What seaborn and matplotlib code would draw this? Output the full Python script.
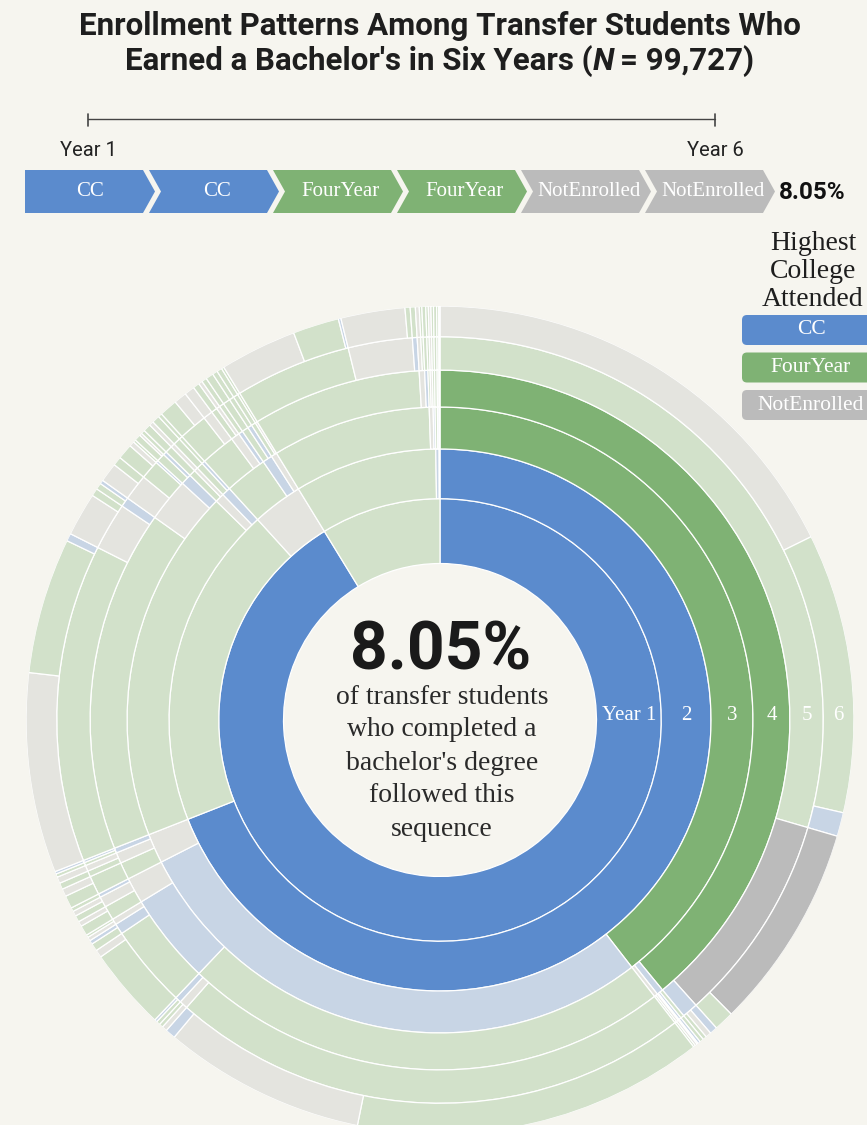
import numpy as np
import pandas as pd
import seaborn as sns
import matplotlib
matplotlib.use("Agg")
import matplotlib.pyplot as plt
from matplotlib.patches import Polygon, FancyBboxPatch
from matplotlib.colors import to_rgb

# ---------------------------------------------------------------- data
state_names = {"C": "CC", "F": "FourYear", "N": "NotEnrolled"}

# six-year enrollment sequences (one letter per year) and their share of students, in %
sequences = [
    "CCFFFN", "CCFFFF", "CCFFFC", "CCFFNN", "CCFFNF", "CCFFCC", "CCFFCN", "CCFFCF",
    "CCFCFF", "CCFCCC", "CCFCNN", "CCFNNN", "CCFNFF",
    "CCCFFF", "CCCFFN", "CCCFFC", "CCCFNN", "CCCFNF", "CCCFCF", "CCCFCC",
    "CCCCFF", "CCCCFN", "CCCCCF", "CCCCCC", "CCCCNN", "CCCCNF",
    "CCCNFF", "CCCNFN", "CCCNNF", "CCCNNN", "CCCNCF",
    "CCNFFF", "CCNFFN", "CCNNFF", "CCNNNN", "CCNCFF", "CCNCCC",
    "CFFFFN", "CFFFFF", "CFFFFC", "CFFFNN", "CFFFNF", "CFFFCF", "CFFFCC",
    "CFFNNN", "CFFNNF", "CFFNFF", "CFFNFN", "CFFNCF", "CFFCFF", "CFFCFN", "CFFCCF",
    "CFCFFF", "CFCCFF", "CFNFFF", "CFNNNN",
    "CNFFFF", "CNFFFN", "CNFFNN", "CNFNFF", "CNFNNN", "CNFCFF", "CNCFFF", "CNCCFF",
    "CNNFFF", "CNNNFF",
    "FFFFFN", "FFFFFF", "FFFFFC", "FFFFNN", "FFFFNF", "FFFFCF", "FFFNNN", "FFFNFF",
    "FFFCFF", "FFNFFF", "FFNNNN", "FFCFFF", "FCFFFF", "FCCFFF", "FNFFFF",
]
shares = [
    17.70, 10.90, 0.93, 8.05, 0.78, 0.30, 0.22, 0.15,
    0.15, 0.10, 0.05, 0.09, 0.08,
    13.70, 7.90, 0.40, 0.20, 0.15, 0.15, 0.10,
    3.20, 0.30, 0.30, 0.15, 0.15, 0.10,
    0.40, 0.20, 0.25, 0.20, 0.15,
    0.50, 0.30, 0.25, 0.25, 0.13, 0.10,
    7.80, 5.30, 0.30, 1.70, 0.30, 0.25, 0.15,
    0.75, 0.35, 0.60, 0.20, 0.10, 0.25, 0.10, 0.15,
    0.30, 0.15, 0.30, 0.17,
    0.70, 0.50, 0.40, 0.25, 0.15, 0.20, 0.30, 0.20,
    0.20, 0.10,
    3.00, 1.80, 0.10, 2.50, 0.20, 0.20, 0.15, 0.10,
    0.15, 0.10, 0.10, 0.10, 0.12, 0.08, 0.05,
]
highlight = "CCFFNN"
total_students = 99727
ring_labels = ["Year 1", "2", "3", "4", "5", "6"]
legend_title = ["Highest", "College", "Attended"]
legend_items = ["CC", "FourYear", "NotEnrolled"]
caption_lines = ["of transfer students", "who completed a", "bachelor's degree",
                 "followed this", "sequence"]

# ---------------------------------------------------------------- style
W, H = 867, 1125
BG = "#f6f5ef"
palette = dict(zip(legend_items, sns.color_palette(["#5b8bcd", "#7fb274", "#bbbbbb"])))

sns.set_theme(style="white")
plt.rcParams["font.family"] = ["DejaVu Sans"]
SANS = "Roboto"
SERIF = "Liberation Serif"


def faded(c, a=0.3):
    c = np.array(to_rgb(c))
    b = np.array(to_rgb(BG))
    return tuple(a * c + (1 - a) * b)


# ---------------------------------------------------------------- partition
df = pd.DataFrame({"seq": sequences, "share": shares})
total = df["share"].sum()
n_years = 6
arcs = []


def layout(prefix, start, depth):
    if depth == n_years:
        return
    sub = df[df["seq"].str.startswith(prefix)]
    grp = sub.groupby(sub["seq"].str[depth])["share"].sum()
    grp = grp.sort_values(ascending=False, kind="stable")
    cur = start
    for code, val in grp.items():
        span = val / total * 2 * np.pi
        arcs.append((prefix + code, depth + 1, cur, span))
        layout(prefix + code, cur, depth + 1)
        cur += span


layout("", 0.0, 0)
arcs = pd.DataFrame(arcs, columns=["path", "depth", "start", "span"])

# ---------------------------------------------------------------- figure
fig = plt.figure(figsize=(W / 100, H / 100), dpi=100, facecolor=BG)

R = 414
cx, cy = 440, 720
ax = fig.add_axes([(cx - R) / W, 1 - (cy + R) / H, 2 * R / W, 2 * R / H],
                  projection="polar")
ax.set_theta_zero_location("N")
ax.set_theta_direction(-1)
ax.set_ylim(0, R)
ax.set_axis_off()
ax.patch.set_alpha(0)

r_edges = R * np.sqrt(np.arange(n_years + 2) / (n_years + 1))

for _, a in arcs.iterrows():
    state = state_names[a["path"][-1]]
    on_path = highlight.startswith(a["path"])
    color = palette[state] if on_path else faded(palette[state])
    r0, r1 = r_edges[a["depth"]], r_edges[a["depth"] + 1]
    ax.bar(a["start"] + a["span"] / 2, r1 - r0, width=a["span"], bottom=r0,
           color=color, edgecolor="white", linewidth=0.9, align="center")

for d, lab in enumerate(ring_labels, start=1):
    rm = (r_edges[d] + r_edges[d + 1]) / 2
    ax.text(np.pi / 2 - 5 / rm, rm, lab, color="white", ha="center", va="center",
            fontsize=15, family=SERIF)

# overlay in pixel coordinates for the annotations
ov = fig.add_axes([0, 0, 1, 1])
ov.set_xlim(0, W)
ov.set_ylim(H, 0)
ov.set_axis_off()
ov.patch.set_alpha(0)

renderer = fig.canvas.get_renderer()


def centered_runs(x, y, runs, **kw):
    texts = [ov.text(0, y, s, ha="left", va="center", **kw, **st)
             for s, st, _ in runs]
    widths = [t.get_window_extent(renderer).width for t in texts]
    gaps = [g for _, _, g in runs]
    cur = x - (sum(widths) + sum(gaps)) / 2
    for t, w, g in zip(texts, widths, gaps):
        t.set_x(cur)
        cur += w + g


title_kw = dict(family=SANS, weight="bold", fontsize=22.5, color="#1e1e1e")
ov.text(440, 26, "Enrollment Patterns Among Transfer Students Who",
        ha="center", va="center", **title_kw)
centered_runs(440, 61, [("Earned a Bachelor's in Six Years (", {}, 0),
                        ("N", {"style": "italic"}, 6),
                        ("= 99,727)", {}, 0)], **title_kw)

# year bracket
ov.plot([88, 715], [119, 119], color="#444444", lw=1.0)
for xt in (88, 715):
    ov.plot([xt, xt], [114, 126], color="#444444", lw=1.2)
ov.text(88, 151, "Year 1", ha="center", va="center", family=SANS, fontsize=14.5,
        color="#222222")
ov.text(715, 151, "Year 6", ha="center", va="center", family=SANS, fontsize=14.5,
        color="#222222")

# breadcrumb trail of the highlighted sequence
seq_share = df.loc[df["seq"] == highlight, "share"].sum() / total * 100
bw, tip, step, top, bot = 118, 12, 124, 170, 213
mid = (top + bot) / 2
for i, code in enumerate(highlight):
    x0 = 25 + i * step
    pts = [(x0, top), (x0 + bw, top), (x0 + bw + tip, mid), (x0 + bw, bot), (x0, bot)]
    if i > 0:
        pts.append((x0 + tip, mid))
    name = state_names[code]
    ov.add_patch(Polygon(pts, closed=True, facecolor=palette[name], edgecolor="none"))
    ov.text(x0 + (bw + tip) / 2 + (3 if i > 0 else 0), mid, name, ha="center",
            va="center", color="white", family=SERIF, fontsize=15)
ov.text(779, mid + 1, f"{seq_share:.2f}%", ha="left", va="center",
        family=SANS, weight="bold", fontsize=17.5, color="#111111")

# legend
for k, line in enumerate(legend_title):
    ov.text(813, 244 + 28 * k, line, ha="center", va="center", family=SERIF,
            fontsize=20, color="#1e1e1e")
for k, name in enumerate(legend_items):
    y0 = 315 + 37.5 * k
    ov.add_patch(FancyBboxPatch((742, y0), 140, 30,
                                boxstyle="round,pad=0,rounding_size=5",
                                facecolor=palette[name], edgecolor="none"))
    ov.text(811, y0 + 15, name, ha="center", va="center", color="white",
            family=SERIF, fontsize=15.5)

# center statement
ov.text(441, 652, f"{seq_share:.2f}%", ha="center", va="center", family=SANS,
        weight="bold", fontsize=47.5, color="#1a1a1a")
for k, line in enumerate(caption_lines):
    ov.text(442, 697 + 33 * k, line, ha="center", va="center", family=SERIF,
            fontsize=20, color="#2a2a2a")

fig.savefig("out.png", dpi=100, facecolor=BG)
